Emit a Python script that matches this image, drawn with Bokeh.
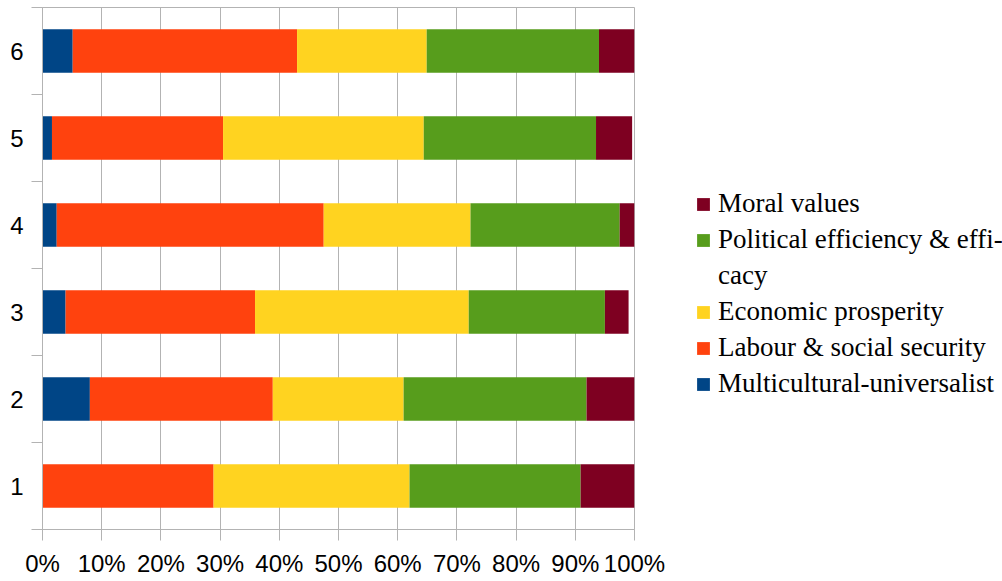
from bokeh.plotting import figure
from bokeh.models import (ColumnDataSource, Legend, LegendItem, FixedTicker,
                          PrintfTickFormatter, Range1d)
from bokeh.embed import file_html
from bokeh.resources import INLINE

# Share of each theme per group (percent of total)
groups = [1, 2, 3, 4, 5, 6]
multicultural = [0.0, 8.0, 3.9, 2.4, 1.6, 5.1]
labour = [28.9, 30.9, 32.0, 45.1, 28.9, 37.9]
economic = [33.1, 22.1, 36.1, 24.8, 33.9, 21.9]
political = [28.9, 30.9, 23.0, 25.2, 29.1, 29.1]
moral = [9.1, 8.1, 4.0, 2.5, 6.1, 6.0]

series_keys = ["multicultural", "labour", "economic", "political", "moral"]
series_names = ["Multicultural-universalist", "Labour & social security",
                "Economic prosperity", "Political efficiency & effi-",
                "Moral values"]
wrapped_tail = "cacy"
colors = ["#004586", "#ff420e", "#ffd320", "#579d1c", "#7e0021"]
x_ticks = [0, 10, 20, 30, 40, 50, 60, 70, 80, 90, 100]

source = ColumnDataSource(dict(
    y=groups, multicultural=multicultural, labour=labour,
    economic=economic, political=political, moral=moral))

grey = "#b3b3b3"

p = figure(frame_width=592, frame_height=522, output_backend="svg",
           toolbar_location=None,
           x_range=Range1d(0, 100), y_range=Range1d(0.5, 6.5),
           min_border_left=42, min_border_top=7, min_border_bottom=52,
           min_border_right=368)

renderers = p.hbar_stack(series_keys, y="y", height=0.5, color=colors,
                         line_color=None, source=source)

# empty, invisible renderer carrying the wrapped second line of a legend label
blank = p.hbar(y=[], right=[], height=0.5, fill_alpha=0, line_alpha=0)

p.outline_line_color = grey
p.background_fill_color = "white"
p.border_fill_color = "white"

# x axis: percentages
xa = p.xaxis[0]
xa.ticker = FixedTicker(ticks=x_ticks)
xa.formatter = PrintfTickFormatter(format="%d%%")
xa.axis_line_color = grey
xa.major_tick_line_color = grey
xa.major_tick_out = 11
xa.major_tick_in = 0
xa.minor_tick_line_color = None
xa.major_label_text_font = "Liberation Sans"
xa.major_label_text_font_size = "24px"
xa.major_label_text_color = "black"
xa.major_label_standoff = 9

# y axis: group labels at centres, tick marks between groups
ya = p.yaxis[0]
ya.ticker = FixedTicker(ticks=groups,
                        minor_ticks=[g - 0.5 for g in groups] + [groups[-1] + 0.5])
ya.axis_line_color = grey
ya.major_tick_line_color = None
ya.major_tick_out = 0
ya.major_tick_in = 0
ya.minor_tick_line_color = grey
ya.minor_tick_out = 11
ya.minor_tick_in = 0
ya.major_label_text_font = "Liberation Sans"
ya.major_label_text_font_size = "24px"
ya.major_label_text_color = "black"
ya.major_label_standoff = 8

p.xgrid.grid_line_color = grey
p.xgrid.ticker = FixedTicker(ticks=x_ticks)
p.ygrid.grid_line_color = None

items = [LegendItem(label=name, renderers=[r])
         for name, r in zip(series_names, renderers)][::-1]
items.insert(2, LegendItem(label=wrapped_tail, renderers=[blank]))
legend = Legend(items=items, location=(61, 130),
                label_text_font="Liberation Serif", label_text_font_size="27px",
                label_text_color="black",
                glyph_width=16, glyph_height=16,
                label_standoff=7, spacing=5, padding=0, margin=0,
                border_line_color=None, background_fill_alpha=0)
p.add_layout(legend, "right")

open("out.html", "w").write(file_html(p, INLINE))
